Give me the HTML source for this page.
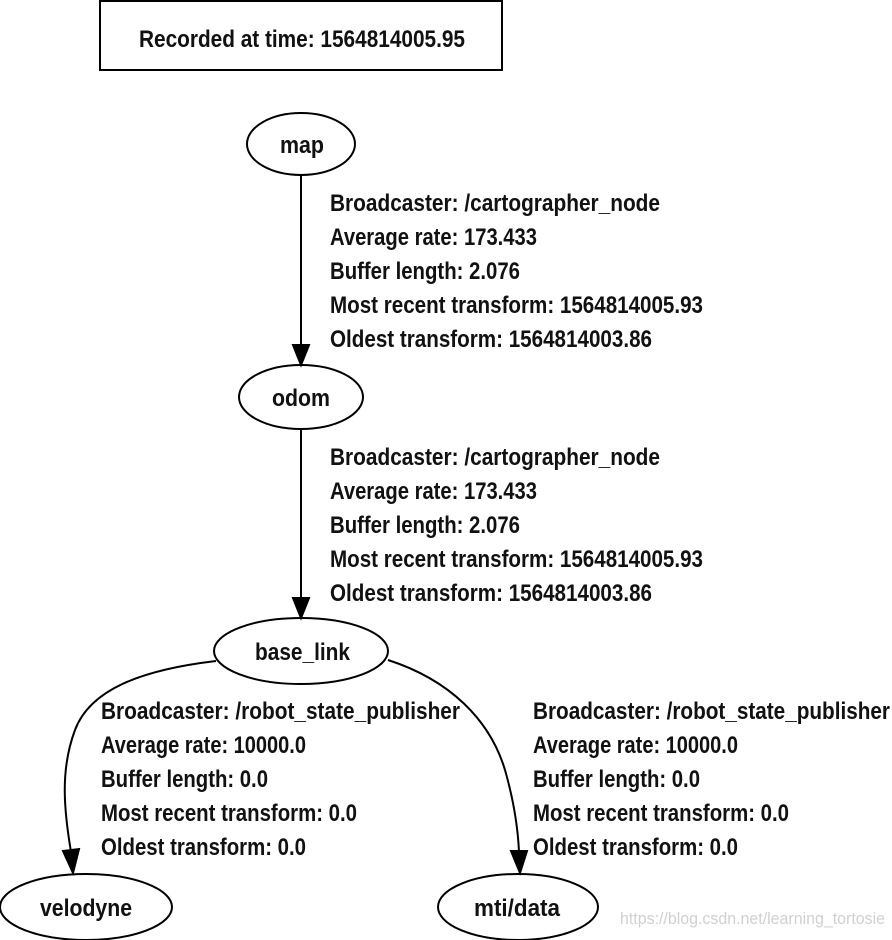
<!DOCTYPE html>
<html><head><meta charset="utf-8"><style>
html,body{margin:0;padding:0;background:#fff;}
svg{display:block}
text{font-family:"Liberation Sans Narrow","Liberation Sans",sans-serif;font-size:24px;font-weight:bold;fill:#111;}
</style></head><body>
<svg width="892" height="940" viewBox="0 0 892 940" xmlns="http://www.w3.org/2000/svg">
<rect x="100" y="1" width="402" height="69" fill="#fff" stroke="#000" stroke-width="2"/>
<text x="139" y="47" textLength="326" lengthAdjust="spacingAndGlyphs">Recorded at time: 1564814005.95</text>

<g fill="none" stroke="#000" stroke-width="2">
<ellipse cx="301" cy="144" rx="54" ry="31"/>
<ellipse cx="301" cy="397" rx="62" ry="32"/>
<ellipse cx="301" cy="651" rx="87" ry="33"/>
<ellipse cx="86" cy="907" rx="86" ry="33"/>
<ellipse cx="518" cy="907" rx="80" ry="33"/>
<line x1="301" y1="175" x2="301" y2="346"/>
<line x1="301" y1="429" x2="301" y2="598"/>
<path d="M216,661 C140,670 90,690 75,730 C60,770 64,810 71,852"/>
<path d="M388,660 C450,680 490,720 505,770 C515,805 518,830 519,852"/>
</g>
<g fill="#000" stroke="#000" stroke-width="2">
<polygon points="293,345 309,345 301,365"/>
<polygon points="293,598 309,598 301,618"/>
<polygon points="63,851 79,849 73,873"/>
<polygon points="511,851 527,851 520,873"/>
</g>

<text x="280" y="153" textLength="44" lengthAdjust="spacingAndGlyphs">map</text>
<text x="272" y="406" textLength="58" lengthAdjust="spacingAndGlyphs">odom</text>
<text x="255" y="660" textLength="95" lengthAdjust="spacingAndGlyphs">base_link</text>
<text x="40" y="916" textLength="92" lengthAdjust="spacingAndGlyphs">velodyne</text>
<text x="474" y="916" textLength="86" lengthAdjust="spacingAndGlyphs">mti/data</text>

<g>
<text x="330" y="211" textLength="330" lengthAdjust="spacingAndGlyphs">Broadcaster: /cartographer_node</text>
<text x="330" y="245" textLength="207" lengthAdjust="spacingAndGlyphs">Average rate: 173.433</text>
<text x="330" y="279" textLength="190" lengthAdjust="spacingAndGlyphs">Buffer length: 2.076</text>
<text x="330" y="313" textLength="373" lengthAdjust="spacingAndGlyphs">Most recent transform: 1564814005.93</text>
<text x="330" y="347" textLength="322" lengthAdjust="spacingAndGlyphs">Oldest transform: 1564814003.86</text>

<text x="330" y="465" textLength="330" lengthAdjust="spacingAndGlyphs">Broadcaster: /cartographer_node</text>
<text x="330" y="499" textLength="207" lengthAdjust="spacingAndGlyphs">Average rate: 173.433</text>
<text x="330" y="533" textLength="190" lengthAdjust="spacingAndGlyphs">Buffer length: 2.076</text>
<text x="330" y="567" textLength="373" lengthAdjust="spacingAndGlyphs">Most recent transform: 1564814005.93</text>
<text x="330" y="601" textLength="322" lengthAdjust="spacingAndGlyphs">Oldest transform: 1564814003.86</text>

<text x="101" y="719" textLength="359" lengthAdjust="spacingAndGlyphs">Broadcaster: /robot_state_publisher</text>
<text x="101" y="753" textLength="205" lengthAdjust="spacingAndGlyphs">Average rate: 10000.0</text>
<text x="101" y="787" textLength="167" lengthAdjust="spacingAndGlyphs">Buffer length: 0.0</text>
<text x="101" y="821" textLength="256" lengthAdjust="spacingAndGlyphs">Most recent transform: 0.0</text>
<text x="101" y="855" textLength="205" lengthAdjust="spacingAndGlyphs">Oldest transform: 0.0</text>

<text x="533" y="719" textLength="357" lengthAdjust="spacingAndGlyphs">Broadcaster: /robot_state_publisher</text>
<text x="533" y="753" textLength="205" lengthAdjust="spacingAndGlyphs">Average rate: 10000.0</text>
<text x="533" y="787" textLength="167" lengthAdjust="spacingAndGlyphs">Buffer length: 0.0</text>
<text x="533" y="821" textLength="256" lengthAdjust="spacingAndGlyphs">Most recent transform: 0.0</text>
<text x="533" y="855" textLength="205" lengthAdjust="spacingAndGlyphs">Oldest transform: 0.0</text>
</g>

<text x="620" y="924" textLength="265" lengthAdjust="spacingAndGlyphs" style="font-size:17px;font-weight:normal;fill:#d0d0d0">https://blog.csdn.net/learning_tortosie</text>
</svg>
</body></html>
